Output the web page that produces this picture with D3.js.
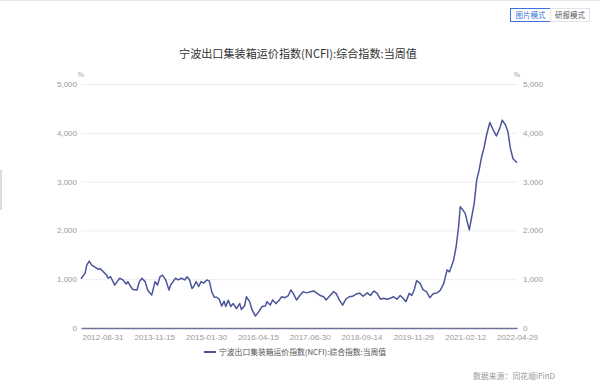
<!DOCTYPE html>
<html>
<head>
<meta charset="utf-8" />
<title>NCFI</title>
<script src="https://d3js.org/d3.v7.min.js"></script>
<style>
  body { margin: 0; background: #fff; font-family: "Noto Sans CJK SC", "Noto Sans", sans-serif; }
  .grid line { stroke: #eeeeee; }
  .axis text { fill: #9a9a9a; font-size: 8px; }
</style>
</head>
<body>
<div id="viz"></div>
<script>
// weekly index, week 0 = 2012-03-02
var firstWeek = "2012-03-02";
var weekNo = [0, 5, 7, 10, 13, 17, 21, 23, 27, 31, 33, 36, 41, 44, 47, 51, 55, 57, 60, 63,
  68, 71, 74, 78, 81, 84, 86, 90, 93, 96, 99, 103, 107, 109, 112, 115, 118, 122, 126, 129,
  132, 135, 137, 140, 143, 146, 149, 153, 156, 159, 162, 165, 168, 171, 174, 176, 179, 182, 185, 189,
  193, 195, 199, 201, 205, 208, 212, 216, 220, 224, 226, 230, 233, 237, 241, 244, 248, 252, 255, 258,
  262, 266, 270, 274, 279, 283, 287, 291, 295, 298, 302, 307, 310, 314, 318, 322, 326, 330, 335, 339,
  343, 348, 352, 356, 360, 364, 368, 372, 376, 380, 384, 388, 391, 395, 399, 402, 405, 408, 412, 416,
  420, 424, 428, 433, 437, 441, 445, 448, 453, 456, 459, 461, 464, 467, 470, 472, 475, 478, 481, 484,
  487, 490, 493, 497, 501, 505, 509, 512, 516, 519, 522, 525, 530];
var ncfi = [1010, 1125, 1290, 1370, 1290, 1245, 1200, 1220, 1155, 1085, 1020, 1050, 880, 950, 1020, 985, 900, 950, 860, 790,
  780, 950, 1020, 950, 780, 710, 675, 950, 880, 1050, 1085, 985, 780, 880, 950, 1020, 985, 1020, 985, 1050,
  985, 810, 850, 950, 850, 950, 920, 985, 960, 740, 630, 630, 590, 450, 550, 440, 570, 440, 500, 400,
  500, 380, 460, 640, 540, 370, 245, 330, 440, 450, 540, 470, 575, 500, 570, 640, 620, 665, 780, 710,
  575, 665, 745, 720, 745, 760, 710, 665, 640, 575, 650, 745, 710, 575, 470, 590, 640, 650, 700, 710,
  650, 720, 665, 760, 710, 590, 610, 590, 610, 640, 590, 665, 620, 540, 710, 665, 780, 970, 920, 780,
  745, 620, 700, 720, 780, 915, 1190, 1150, 1395, 1665, 2075, 2485, 2420, 2350, 2145, 2010, 2280, 2555, 3030, 3240,
  3510, 3700, 3955, 4210, 4060, 3935, 4090, 4260, 4160, 4020, 3680, 3475, 3385];
var tickDates = ["2012-08-31", "2013-11-15", "2015-01-30", "2016-04-15", "2017-06-30",
  "2018-09-14", "2019-11-29", "2021-02-12", "2022-04-29"];
var yTicks = [0, 1000, 2000, 3000, 4000, 5000];
var seriesName = "宁波出口集装箱运价指数(NCFI):综合指数:当周值";

var width = 600, height = 388;
var mLeft = 81, mRight = 517, mTop = 84, mBottom = 328;
var parse = d3.timeParse("%Y-%m-%d");
var start = parse(firstWeek);

var data = weekNo.map(function(w, i) {
  return { date: d3.timeWeek.offset(start, w), value: ncfi[i] };
});

var svg = d3.select("#viz").append("svg")
    .attr("width", width)
    .attr("height", height);

// top border and left edge marks
svg.append("rect").attr("x", 0).attr("y", 0).attr("width", width).attr("height", 1).attr("fill", "#e6e6e6");
svg.append("rect").attr("x", 0).attr("y", 170).attr("width", 2).attr("height", 40).attr("fill", "#dcdcdc");

// mode buttons
var btn = svg.append("g").attr("font-size", 7.5);
btn.append("rect").attr("x", 510.5).attr("y", 8.5).attr("width", 40).attr("height", 13)
  .attr("fill", "#fff").attr("stroke", "#3d74d9");
btn.append("text").attr("x", 530.5).attr("y", 18).attr("text-anchor", "middle")
  .attr("fill", "#3d74d9").text("图片模式");
btn.append("rect").attr("x", 550.5).attr("y", 8.5).attr("width", 39).attr("height", 13)
  .attr("fill", "#fff").attr("stroke", "#e3e3e3");
btn.append("text").attr("x", 570).attr("y", 18).attr("text-anchor", "middle")
  .attr("fill", "#555").text("研报模式");

svg.append("text")
    .attr("x", 298).attr("y", 58)
    .attr("text-anchor", "middle")
    .attr("font-size", 11.1)
    .attr("fill", "#333")
    .text(seriesName);

var x = d3.scaleTime()
    .domain([start, d3.timeWeek.offset(start, 530)])
    .range([mLeft, mRight]);
var y = d3.scaleLinear().domain([0, 5000]).range([mBottom, mTop]);

// grid
svg.append("g").attr("class", "grid")
  .selectAll("line").data(yTicks.slice(1)).enter().append("line")
    .attr("x1", mLeft).attr("x2", mRight)
    .attr("y1", function(d) { return y(d) + 0.5; })
    .attr("y2", function(d) { return y(d) + 0.5; });

var fmt = d3.format(",");
svg.append("g").attr("class", "axis")
    .attr("transform", "translate(" + (mLeft - 4) + ",0)")
    .call(d3.axisLeft(y).tickValues(yTicks).tickFormat(fmt).tickSize(0).tickPadding(0))
    .call(function(g) { g.select(".domain").remove(); });
svg.append("g").attr("class", "axis")
    .attr("transform", "translate(" + (mRight + 6) + ",0)")
    .call(d3.axisRight(y).tickValues(yTicks).tickFormat(fmt).tickSize(0).tickPadding(0))
    .call(function(g) { g.select(".domain").remove(); });

svg.append("text").attr("x", mLeft).attr("y", 77).attr("font-size", 6.5)
  .attr("fill", "#9a9a9a").attr("text-anchor", "middle").text("%");
svg.append("text").attr("x", mRight).attr("y", 77).attr("font-size", 6.5)
  .attr("fill", "#9a9a9a").attr("text-anchor", "middle").text("%");

svg.append("g").attr("class", "axis")
    .attr("transform", "translate(0," + mBottom + ")")
    .call(d3.axisBottom(x).tickValues(tickDates.map(parse))
      .tickFormat(d3.timeFormat("%Y-%m-%d")).tickSize(0).tickPadding(6))
    .call(function(g) {
      g.select(".domain").attr("stroke", "#6b7199").attr("stroke-width", 1.3);
    });

var line = d3.line()
    .x(function(d) { return x(d.date); })
    .y(function(d) { return y(d.value); });

svg.append("path")
    .datum(data)
    .attr("fill", "none")
    .attr("stroke", "#4b5599")
    .attr("stroke-width", 1.5)
    .attr("stroke-linejoin", "round")
    .attr("d", line);

// legend
var lg = svg.append("g").attr("transform", "translate(204,352)");
lg.append("line").attr("x1", 0).attr("x2", 12).attr("y1", 0).attr("y2", 0)
  .attr("stroke", "#4b5599").attr("stroke-width", 2);
lg.append("text").attr("x", 15).attr("y", 3).attr("font-size", 7.8)
  .attr("fill", "#555").text(seriesName);

svg.append("text").attr("x", 555).attr("y", 379).attr("text-anchor", "end")
  .attr("font-size", 7.9).attr("fill", "#999").text("数据来源：同花顺iFinD");
</script>
</body>
</html>
